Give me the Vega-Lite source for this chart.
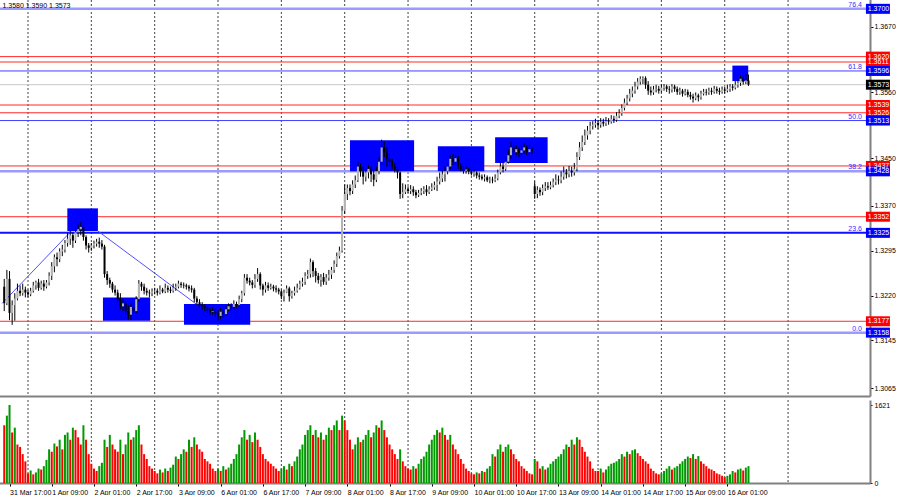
{
"$schema":"https://vega.github.io/schema/vega-lite/v6.json",
"background":"white","padding":{"left":-5,"top":-5,"right":0,"bottom":0},"spacing":2,
"config":{"view":{"stroke":null},"axis":{"labelFont":"Liberation Sans","labelFontSize":7,"labelColor":"#000000","tickColor":"#000000","grid":false,"title":null}},
"datasets":{
"bars":[
{"i":1,"o":1.3235,"h":1.3248,"l":1.3194,"c":1.3207,"v":1200},
{"i":2,"o":1.3207,"h":1.3263,"l":1.3204,"c":1.3248,"v":1400},
{"i":3,"o":1.3248,"h":1.3261,"l":1.3179,"c":1.3191,"v":1621},
{"i":4,"o":1.3191,"h":1.3212,"l":1.3171,"c":1.3204,"v":1050},
{"i":5,"o":1.3204,"h":1.3224,"l":1.3178,"c":1.3215,"v":1150},
{"i":6,"o":1.3215,"h":1.3240,"l":1.3212,"c":1.3228,"v":800},
{"i":7,"o":1.3228,"h":1.3237,"l":1.3219,"c":1.3224,"v":750},
{"i":8,"o":1.3224,"h":1.3240,"l":1.3220,"c":1.3230,"v":600},
{"i":9,"o":1.3230,"h":1.3235,"l":1.3217,"c":1.3225,"v":450},
{"i":10,"o":1.3225,"h":1.3230,"l":1.3217,"c":1.3222,"v":200},
{"i":11,"o":1.3222,"h":1.3233,"l":1.3219,"c":1.3228,"v":260},
{"i":12,"o":1.3228,"h":1.3243,"l":1.3225,"c":1.3237,"v":180},
{"i":13,"o":1.3237,"h":1.3245,"l":1.3230,"c":1.3242,"v":220},
{"i":14,"o":1.3242,"h":1.3248,"l":1.3228,"c":1.3233,"v":300},
{"i":15,"o":1.3233,"h":1.3245,"l":1.3230,"c":1.3240,"v":280},
{"i":16,"o":1.3240,"h":1.3246,"l":1.3228,"c":1.3235,"v":350},
{"i":17,"o":1.3235,"h":1.3246,"l":1.3232,"c":1.3242,"v":480},
{"i":18,"o":1.3242,"h":1.3259,"l":1.3237,"c":1.3253,"v":700},
{"i":19,"o":1.3253,"h":1.3276,"l":1.3246,"c":1.3269,"v":650},
{"i":20,"o":1.3269,"h":1.3289,"l":1.3259,"c":1.3284,"v":820},
{"i":21,"o":1.3284,"h":1.3292,"l":1.3269,"c":1.3281,"v":760},
{"i":22,"o":1.3281,"h":1.3299,"l":1.3276,"c":1.3294,"v":900},
{"i":23,"o":1.3294,"h":1.3305,"l":1.3286,"c":1.3297,"v":700},
{"i":24,"o":1.3297,"h":1.3313,"l":1.3292,"c":1.3308,"v":1000},
{"i":25,"o":1.3308,"h":1.3325,"l":1.3302,"c":1.3315,"v":1050},
{"i":26,"o":1.3315,"h":1.3328,"l":1.3305,"c":1.3321,"v":900},
{"i":27,"o":1.3321,"h":1.3325,"l":1.3300,"c":1.3312,"v":1150},
{"i":28,"o":1.3312,"h":1.3335,"l":1.3308,"c":1.3326,"v":1100},
{"i":29,"o":1.3326,"h":1.3339,"l":1.3318,"c":1.3331,"v":950},
{"i":30,"o":1.3331,"h":1.3343,"l":1.3321,"c":1.3335,"v":800},
{"i":31,"o":1.3335,"h":1.3338,"l":1.3312,"c":1.3318,"v":1200},
{"i":32,"o":1.3318,"h":1.3321,"l":1.3297,"c":1.3304,"v":900},
{"i":33,"o":1.3304,"h":1.3308,"l":1.3292,"c":1.3300,"v":600},
{"i":34,"o":1.3300,"h":1.3308,"l":1.3295,"c":1.3304,"v":400},
{"i":35,"o":1.3304,"h":1.3312,"l":1.3299,"c":1.3307,"v":300},
{"i":36,"o":1.3307,"h":1.3315,"l":1.3302,"c":1.3310,"v":250},
{"i":37,"o":1.3310,"h":1.3317,"l":1.3300,"c":1.3307,"v":350},
{"i":38,"o":1.3307,"h":1.3313,"l":1.3297,"c":1.3302,"v":420},
{"i":39,"o":1.3302,"h":1.3305,"l":1.3250,"c":1.3256,"v":900},
{"i":40,"o":1.3256,"h":1.3261,"l":1.3238,"c":1.3246,"v":750},
{"i":41,"o":1.3246,"h":1.3250,"l":1.3233,"c":1.3240,"v":1000},
{"i":42,"o":1.3240,"h":1.3243,"l":1.3225,"c":1.3230,"v":800},
{"i":43,"o":1.3230,"h":1.3237,"l":1.3220,"c":1.3225,"v":700},
{"i":44,"o":1.3225,"h":1.3230,"l":1.3209,"c":1.3214,"v":650},
{"i":45,"o":1.3214,"h":1.3224,"l":1.3197,"c":1.3202,"v":900},
{"i":46,"o":1.3202,"h":1.3215,"l":1.3194,"c":1.3207,"v":600},
{"i":47,"o":1.3207,"h":1.3210,"l":1.3188,"c":1.3194,"v":800},
{"i":48,"o":1.3194,"h":1.3204,"l":1.3179,"c":1.3188,"v":1050},
{"i":49,"o":1.3188,"h":1.3207,"l":1.3179,"c":1.3201,"v":900},
{"i":50,"o":1.3201,"h":1.3207,"l":1.3189,"c":1.3194,"v":950},
{"i":51,"o":1.3194,"h":1.3219,"l":1.3191,"c":1.3214,"v":1100},
{"i":52,"o":1.3214,"h":1.3246,"l":1.3210,"c":1.3240,"v":1200},
{"i":53,"o":1.3240,"h":1.3243,"l":1.3228,"c":1.3235,"v":800},
{"i":54,"o":1.3235,"h":1.3240,"l":1.3222,"c":1.3228,"v":600},
{"i":55,"o":1.3228,"h":1.3233,"l":1.3220,"c":1.3225,"v":500},
{"i":56,"o":1.3225,"h":1.3230,"l":1.3217,"c":1.3224,"v":350},
{"i":57,"o":1.3224,"h":1.3232,"l":1.3219,"c":1.3227,"v":300},
{"i":58,"o":1.3227,"h":1.3233,"l":1.3222,"c":1.3228,"v":250},
{"i":59,"o":1.3228,"h":1.3232,"l":1.3220,"c":1.3225,"v":200},
{"i":60,"o":1.3225,"h":1.3237,"l":1.3222,"c":1.3230,"v":280},
{"i":61,"o":1.3230,"h":1.3233,"l":1.3224,"c":1.3227,"v":220},
{"i":62,"o":1.3227,"h":1.3240,"l":1.3224,"c":1.3233,"v":300},
{"i":63,"o":1.3233,"h":1.3237,"l":1.3225,"c":1.3230,"v":250},
{"i":64,"o":1.3230,"h":1.3235,"l":1.3224,"c":1.3228,"v":320},
{"i":65,"o":1.3228,"h":1.3240,"l":1.3225,"c":1.3233,"v":380},
{"i":66,"o":1.3233,"h":1.3240,"l":1.3228,"c":1.3235,"v":550},
{"i":67,"o":1.3235,"h":1.3245,"l":1.3232,"c":1.3240,"v":500},
{"i":68,"o":1.3240,"h":1.3243,"l":1.3233,"c":1.3238,"v":600},
{"i":69,"o":1.3238,"h":1.3242,"l":1.3232,"c":1.3237,"v":700},
{"i":70,"o":1.3237,"h":1.3240,"l":1.3230,"c":1.3235,"v":650},
{"i":71,"o":1.3235,"h":1.3238,"l":1.3227,"c":1.3232,"v":900},
{"i":72,"o":1.3232,"h":1.3237,"l":1.3225,"c":1.3230,"v":750},
{"i":73,"o":1.3230,"h":1.3233,"l":1.3209,"c":1.3215,"v":950},
{"i":74,"o":1.3215,"h":1.3219,"l":1.3204,"c":1.3209,"v":800},
{"i":75,"o":1.3209,"h":1.3214,"l":1.3199,"c":1.3204,"v":700},
{"i":76,"o":1.3204,"h":1.3209,"l":1.3196,"c":1.3202,"v":650},
{"i":77,"o":1.3202,"h":1.3206,"l":1.3194,"c":1.3199,"v":500},
{"i":78,"o":1.3199,"h":1.3202,"l":1.3191,"c":1.3196,"v":450},
{"i":79,"o":1.3196,"h":1.3199,"l":1.3188,"c":1.3193,"v":400},
{"i":80,"o":1.3193,"h":1.3201,"l":1.3188,"c":1.3194,"v":300},
{"i":81,"o":1.3194,"h":1.3199,"l":1.3184,"c":1.3191,"v":250},
{"i":82,"o":1.3191,"h":1.3196,"l":1.3178,"c":1.3186,"v":300},
{"i":83,"o":1.3186,"h":1.3199,"l":1.3181,"c":1.3193,"v":250},
{"i":84,"o":1.3193,"h":1.3197,"l":1.3184,"c":1.3189,"v":350},
{"i":85,"o":1.3189,"h":1.3204,"l":1.3186,"c":1.3197,"v":280},
{"i":86,"o":1.3197,"h":1.3207,"l":1.3194,"c":1.3202,"v":320},
{"i":87,"o":1.3202,"h":1.3207,"l":1.3196,"c":1.3201,"v":400},
{"i":88,"o":1.3201,"h":1.3212,"l":1.3197,"c":1.3206,"v":500},
{"i":89,"o":1.3206,"h":1.3210,"l":1.3199,"c":1.3204,"v":600},
{"i":90,"o":1.3204,"h":1.3220,"l":1.3201,"c":1.3214,"v":800},
{"i":91,"o":1.3214,"h":1.3228,"l":1.3209,"c":1.3224,"v":950},
{"i":92,"o":1.3224,"h":1.3256,"l":1.3220,"c":1.3250,"v":1100},
{"i":93,"o":1.3250,"h":1.3256,"l":1.3240,"c":1.3245,"v":900},
{"i":94,"o":1.3245,"h":1.3250,"l":1.3237,"c":1.3242,"v":1000},
{"i":95,"o":1.3242,"h":1.3246,"l":1.3232,"c":1.3238,"v":850},
{"i":96,"o":1.3238,"h":1.3256,"l":1.3233,"c":1.3248,"v":1050},
{"i":97,"o":1.3248,"h":1.3266,"l":1.3243,"c":1.3256,"v":900},
{"i":98,"o":1.3256,"h":1.3259,"l":1.3230,"c":1.3237,"v":750},
{"i":99,"o":1.3237,"h":1.3240,"l":1.3220,"c":1.3230,"v":600},
{"i":100,"o":1.3230,"h":1.3243,"l":1.3225,"c":1.3237,"v":500},
{"i":101,"o":1.3237,"h":1.3242,"l":1.3228,"c":1.3233,"v":450},
{"i":102,"o":1.3233,"h":1.3240,"l":1.3230,"c":1.3235,"v":400},
{"i":103,"o":1.3235,"h":1.3238,"l":1.3227,"c":1.3232,"v":350},
{"i":104,"o":1.3232,"h":1.3237,"l":1.3225,"c":1.3230,"v":300},
{"i":105,"o":1.3230,"h":1.3233,"l":1.3222,"c":1.3227,"v":250},
{"i":106,"o":1.3227,"h":1.3230,"l":1.3214,"c":1.3219,"v":300},
{"i":107,"o":1.3219,"h":1.3230,"l":1.3210,"c":1.3225,"v":350},
{"i":108,"o":1.3225,"h":1.3237,"l":1.3224,"c":1.3232,"v":280},
{"i":109,"o":1.3232,"h":1.3235,"l":1.3210,"c":1.3219,"v":400},
{"i":110,"o":1.3219,"h":1.3228,"l":1.3215,"c":1.3224,"v":350},
{"i":111,"o":1.3224,"h":1.3235,"l":1.3220,"c":1.3228,"v":450},
{"i":112,"o":1.3228,"h":1.3240,"l":1.3225,"c":1.3233,"v":550},
{"i":113,"o":1.3233,"h":1.3245,"l":1.3230,"c":1.3240,"v":700},
{"i":114,"o":1.3240,"h":1.3250,"l":1.3235,"c":1.3243,"v":800},
{"i":115,"o":1.3243,"h":1.3259,"l":1.3238,"c":1.3253,"v":1000},
{"i":116,"o":1.3253,"h":1.3263,"l":1.3248,"c":1.3256,"v":1100},
{"i":117,"o":1.3256,"h":1.3282,"l":1.3250,"c":1.3276,"v":1200},
{"i":118,"o":1.3276,"h":1.3279,"l":1.3251,"c":1.3261,"v":1000},
{"i":119,"o":1.3261,"h":1.3266,"l":1.3242,"c":1.3253,"v":1100},
{"i":120,"o":1.3253,"h":1.3258,"l":1.3240,"c":1.3246,"v":950},
{"i":121,"o":1.3246,"h":1.3256,"l":1.3235,"c":1.3251,"v":1050},
{"i":122,"o":1.3251,"h":1.3258,"l":1.3238,"c":1.3243,"v":900},
{"i":123,"o":1.3243,"h":1.3256,"l":1.3238,"c":1.3250,"v":1000},
{"i":124,"o":1.3250,"h":1.3263,"l":1.3245,"c":1.3255,"v":1150},
{"i":125,"o":1.3255,"h":1.3268,"l":1.3248,"c":1.3263,"v":1100},
{"i":126,"o":1.3263,"h":1.3279,"l":1.3258,"c":1.3273,"v":1200},
{"i":127,"o":1.3273,"h":1.3292,"l":1.3268,"c":1.3286,"v":1300},
{"i":128,"o":1.3286,"h":1.3302,"l":1.3282,"c":1.3295,"v":1100},
{"i":129,"o":1.3295,"h":1.3370,"l":1.3292,"c":1.3362,"v":1400},
{"i":130,"o":1.3362,"h":1.3406,"l":1.3357,"c":1.3390,"v":1300},
{"i":131,"o":1.3390,"h":1.3406,"l":1.3380,"c":1.3400,"v":1100},
{"i":132,"o":1.3400,"h":1.3406,"l":1.3388,"c":1.3395,"v":900},
{"i":133,"o":1.3395,"h":1.3413,"l":1.3390,"c":1.3406,"v":700},
{"i":134,"o":1.3406,"h":1.3421,"l":1.3400,"c":1.3413,"v":800},
{"i":135,"o":1.3413,"h":1.3444,"l":1.3410,"c":1.3436,"v":950},
{"i":136,"o":1.3436,"h":1.3441,"l":1.3419,"c":1.3428,"v":850},
{"i":137,"o":1.3428,"h":1.3436,"l":1.3406,"c":1.3419,"v":900},
{"i":138,"o":1.3419,"h":1.3432,"l":1.3411,"c":1.3426,"v":1000},
{"i":139,"o":1.3426,"h":1.3439,"l":1.3416,"c":1.3432,"v":1100},
{"i":140,"o":1.3432,"h":1.3436,"l":1.3410,"c":1.3423,"v":950},
{"i":141,"o":1.3423,"h":1.3431,"l":1.3403,"c":1.3414,"v":1050},
{"i":142,"o":1.3414,"h":1.3436,"l":1.3410,"c":1.3428,"v":1200},
{"i":143,"o":1.3428,"h":1.3452,"l":1.3423,"c":1.3444,"v":1150},
{"i":144,"o":1.3444,"h":1.3481,"l":1.3439,"c":1.3468,"v":1300},
{"i":145,"o":1.3468,"h":1.3478,"l":1.3452,"c":1.3460,"v":1100},
{"i":146,"o":1.3460,"h":1.3468,"l":1.3436,"c":1.3449,"v":950},
{"i":147,"o":1.3449,"h":1.3457,"l":1.3436,"c":1.3444,"v":800},
{"i":148,"o":1.3444,"h":1.3449,"l":1.3431,"c":1.3436,"v":700},
{"i":149,"o":1.3436,"h":1.3442,"l":1.3426,"c":1.3431,"v":600},
{"i":150,"o":1.3431,"h":1.3436,"l":1.3416,"c":1.3426,"v":500},
{"i":151,"o":1.3426,"h":1.3428,"l":1.3382,"c":1.3390,"v":700},
{"i":152,"o":1.3390,"h":1.3408,"l":1.3383,"c":1.3393,"v":450},
{"i":153,"o":1.3393,"h":1.3406,"l":1.3390,"c":1.3398,"v":350},
{"i":154,"o":1.3398,"h":1.3403,"l":1.3392,"c":1.3395,"v":300},
{"i":155,"o":1.3395,"h":1.3405,"l":1.3390,"c":1.3398,"v":280},
{"i":156,"o":1.3398,"h":1.3403,"l":1.3387,"c":1.3393,"v":350},
{"i":157,"o":1.3393,"h":1.3397,"l":1.3383,"c":1.3388,"v":300},
{"i":158,"o":1.3388,"h":1.3397,"l":1.3385,"c":1.3392,"v":400},
{"i":159,"o":1.3392,"h":1.3400,"l":1.3388,"c":1.3395,"v":500},
{"i":160,"o":1.3395,"h":1.3403,"l":1.3390,"c":1.3398,"v":550},
{"i":161,"o":1.3398,"h":1.3405,"l":1.3387,"c":1.3393,"v":650},
{"i":162,"o":1.3393,"h":1.3403,"l":1.3390,"c":1.3398,"v":800},
{"i":163,"o":1.3398,"h":1.3408,"l":1.3395,"c":1.3401,"v":900},
{"i":164,"o":1.3401,"h":1.3411,"l":1.3397,"c":1.3405,"v":1000},
{"i":165,"o":1.3405,"h":1.3419,"l":1.3395,"c":1.3411,"v":1100},
{"i":166,"o":1.3411,"h":1.3426,"l":1.3406,"c":1.3416,"v":1050},
{"i":167,"o":1.3416,"h":1.3429,"l":1.3410,"c":1.3423,"v":1150},
{"i":168,"o":1.3423,"h":1.3436,"l":1.3411,"c":1.3428,"v":1000},
{"i":169,"o":1.3428,"h":1.3442,"l":1.3423,"c":1.3436,"v":900},
{"i":170,"o":1.3436,"h":1.3455,"l":1.3432,"c":1.3449,"v":1000},
{"i":171,"o":1.3449,"h":1.3457,"l":1.3439,"c":1.3444,"v":800},
{"i":172,"o":1.3444,"h":1.3455,"l":1.3439,"c":1.3450,"v":700},
{"i":173,"o":1.3450,"h":1.3454,"l":1.3432,"c":1.3437,"v":600},
{"i":174,"o":1.3437,"h":1.3442,"l":1.3428,"c":1.3432,"v":500},
{"i":175,"o":1.3432,"h":1.3437,"l":1.3424,"c":1.3429,"v":400},
{"i":176,"o":1.3429,"h":1.3436,"l":1.3424,"c":1.3431,"v":300},
{"i":177,"o":1.3431,"h":1.3434,"l":1.3423,"c":1.3428,"v":250},
{"i":178,"o":1.3428,"h":1.3431,"l":1.3421,"c":1.3424,"v":200},
{"i":179,"o":1.3424,"h":1.3431,"l":1.3419,"c":1.3426,"v":180},
{"i":180,"o":1.3426,"h":1.3428,"l":1.3416,"c":1.3421,"v":220},
{"i":181,"o":1.3421,"h":1.3426,"l":1.3414,"c":1.3419,"v":200},
{"i":182,"o":1.3419,"h":1.3423,"l":1.3413,"c":1.3416,"v":250},
{"i":183,"o":1.3416,"h":1.3423,"l":1.3411,"c":1.3418,"v":230},
{"i":184,"o":1.3418,"h":1.3421,"l":1.3410,"c":1.3413,"v":300},
{"i":185,"o":1.3413,"h":1.3419,"l":1.3408,"c":1.3414,"v":350},
{"i":186,"o":1.3414,"h":1.3419,"l":1.3408,"c":1.3413,"v":600},
{"i":187,"o":1.3413,"h":1.3423,"l":1.3410,"c":1.3416,"v":550},
{"i":188,"o":1.3416,"h":1.3431,"l":1.3413,"c":1.3426,"v":700},
{"i":189,"o":1.3426,"h":1.3442,"l":1.3423,"c":1.3436,"v":800},
{"i":190,"o":1.3436,"h":1.3442,"l":1.3426,"c":1.3432,"v":650},
{"i":191,"o":1.3432,"h":1.3452,"l":1.3429,"c":1.3444,"v":750},
{"i":192,"o":1.3444,"h":1.3465,"l":1.3441,"c":1.3455,"v":800},
{"i":193,"o":1.3455,"h":1.3477,"l":1.3449,"c":1.3468,"v":700},
{"i":194,"o":1.3468,"h":1.3473,"l":1.3455,"c":1.3460,"v":600},
{"i":195,"o":1.3460,"h":1.3472,"l":1.3455,"c":1.3465,"v":500},
{"i":196,"o":1.3465,"h":1.3468,"l":1.3452,"c":1.3459,"v":450},
{"i":197,"o":1.3459,"h":1.3470,"l":1.3454,"c":1.3463,"v":350},
{"i":198,"o":1.3463,"h":1.3475,"l":1.3457,"c":1.3468,"v":300},
{"i":199,"o":1.3468,"h":1.3472,"l":1.3455,"c":1.3460,"v":250},
{"i":200,"o":1.3460,"h":1.3472,"l":1.3457,"c":1.3465,"v":200},
{"i":201,"o":1.3465,"h":1.3468,"l":1.3457,"c":1.3462,"v":180},
{"i":202,"o":1.3403,"h":1.3411,"l":1.3382,"c":1.3390,"v":500},
{"i":203,"o":1.3390,"h":1.3403,"l":1.3383,"c":1.3397,"v":450},
{"i":204,"o":1.3397,"h":1.3401,"l":1.3387,"c":1.3393,"v":300},
{"i":205,"o":1.3393,"h":1.3406,"l":1.3388,"c":1.3400,"v":350},
{"i":206,"o":1.3400,"h":1.3410,"l":1.3395,"c":1.3403,"v":280},
{"i":207,"o":1.3403,"h":1.3410,"l":1.3397,"c":1.3401,"v":320},
{"i":208,"o":1.3401,"h":1.3411,"l":1.3398,"c":1.3405,"v":400},
{"i":209,"o":1.3405,"h":1.3416,"l":1.3401,"c":1.3410,"v":450},
{"i":210,"o":1.3410,"h":1.3423,"l":1.3405,"c":1.3414,"v":500},
{"i":211,"o":1.3414,"h":1.3421,"l":1.3406,"c":1.3413,"v":550},
{"i":212,"o":1.3413,"h":1.3428,"l":1.3408,"c":1.3419,"v":600},
{"i":213,"o":1.3419,"h":1.3436,"l":1.3414,"c":1.3426,"v":700},
{"i":214,"o":1.3426,"h":1.3432,"l":1.3416,"c":1.3423,"v":800},
{"i":215,"o":1.3423,"h":1.3437,"l":1.3418,"c":1.3429,"v":750},
{"i":216,"o":1.3429,"h":1.3436,"l":1.3419,"c":1.3426,"v":900},
{"i":217,"o":1.3426,"h":1.3442,"l":1.3421,"c":1.3432,"v":800},
{"i":218,"o":1.3432,"h":1.3460,"l":1.3428,"c":1.3452,"v":950},
{"i":219,"o":1.3452,"h":1.3477,"l":1.3447,"c":1.3468,"v":900},
{"i":220,"o":1.3468,"h":1.3488,"l":1.3462,"c":1.3477,"v":750},
{"i":221,"o":1.3477,"h":1.3498,"l":1.3472,"c":1.3488,"v":650},
{"i":222,"o":1.3488,"h":1.3504,"l":1.3481,"c":1.3496,"v":550},
{"i":223,"o":1.3496,"h":1.3511,"l":1.3490,"c":1.3504,"v":450},
{"i":224,"o":1.3504,"h":1.3512,"l":1.3498,"c":1.3506,"v":300},
{"i":225,"o":1.3506,"h":1.3516,"l":1.3501,"c":1.3509,"v":250},
{"i":226,"o":1.3509,"h":1.3514,"l":1.3499,"c":1.3506,"v":250},
{"i":227,"o":1.3506,"h":1.3517,"l":1.3501,"c":1.3511,"v":300},
{"i":228,"o":1.3511,"h":1.3516,"l":1.3503,"c":1.3508,"v":220},
{"i":229,"o":1.3508,"h":1.3519,"l":1.3504,"c":1.3512,"v":280},
{"i":230,"o":1.3512,"h":1.3517,"l":1.3506,"c":1.3511,"v":350},
{"i":231,"o":1.3511,"h":1.3522,"l":1.3508,"c":1.3516,"v":400},
{"i":232,"o":1.3516,"h":1.3521,"l":1.3509,"c":1.3514,"v":420},
{"i":233,"o":1.3514,"h":1.3527,"l":1.3511,"c":1.3521,"v":450},
{"i":234,"o":1.3521,"h":1.3532,"l":1.3517,"c":1.3525,"v":500},
{"i":235,"o":1.3525,"h":1.3540,"l":1.3521,"c":1.3534,"v":600},
{"i":236,"o":1.3534,"h":1.3550,"l":1.3530,"c":1.3543,"v":550},
{"i":237,"o":1.3543,"h":1.3556,"l":1.3539,"c":1.3550,"v":650},
{"i":238,"o":1.3550,"h":1.3566,"l":1.3545,"c":1.3558,"v":600},
{"i":239,"o":1.3558,"h":1.3570,"l":1.3552,"c":1.3563,"v":680},
{"i":240,"o":1.3563,"h":1.3578,"l":1.3558,"c":1.3570,"v":700},
{"i":241,"o":1.3570,"h":1.3584,"l":1.3565,"c":1.3578,"v":620},
{"i":242,"o":1.3578,"h":1.3587,"l":1.3573,"c":1.3583,"v":560},
{"i":243,"o":1.3583,"h":1.3587,"l":1.3574,"c":1.3584,"v":500},
{"i":244,"o":1.3584,"h":1.3587,"l":1.3566,"c":1.3573,"v":450},
{"i":245,"o":1.3573,"h":1.3579,"l":1.3556,"c":1.3563,"v":400},
{"i":246,"o":1.3563,"h":1.3570,"l":1.3555,"c":1.3560,"v":300},
{"i":247,"o":1.3560,"h":1.3571,"l":1.3556,"c":1.3565,"v":250},
{"i":248,"o":1.3565,"h":1.3573,"l":1.3560,"c":1.3566,"v":200},
{"i":249,"o":1.3566,"h":1.3571,"l":1.3558,"c":1.3563,"v":180},
{"i":250,"o":1.3563,"h":1.3574,"l":1.3560,"c":1.3568,"v":200},
{"i":251,"o":1.3568,"h":1.3574,"l":1.3563,"c":1.3570,"v":250},
{"i":252,"o":1.3570,"h":1.3573,"l":1.3561,"c":1.3566,"v":300},
{"i":253,"o":1.3566,"h":1.3571,"l":1.3558,"c":1.3565,"v":350},
{"i":254,"o":1.3565,"h":1.3574,"l":1.3560,"c":1.3570,"v":280},
{"i":255,"o":1.3570,"h":1.3573,"l":1.3561,"c":1.3566,"v":320},
{"i":256,"o":1.3566,"h":1.3570,"l":1.3556,"c":1.3561,"v":350},
{"i":257,"o":1.3561,"h":1.3568,"l":1.3556,"c":1.3563,"v":400},
{"i":258,"o":1.3563,"h":1.3566,"l":1.3553,"c":1.3558,"v":450},
{"i":259,"o":1.3558,"h":1.3566,"l":1.3555,"c":1.3561,"v":500},
{"i":260,"o":1.3561,"h":1.3565,"l":1.3552,"c":1.3556,"v":550},
{"i":261,"o":1.3556,"h":1.3561,"l":1.3548,"c":1.3553,"v":520},
{"i":262,"o":1.3553,"h":1.3558,"l":1.3543,"c":1.3550,"v":600},
{"i":263,"o":1.3550,"h":1.3560,"l":1.3547,"c":1.3555,"v":500},
{"i":264,"o":1.3555,"h":1.3558,"l":1.3545,"c":1.3552,"v":560},
{"i":265,"o":1.3552,"h":1.3563,"l":1.3548,"c":1.3558,"v":450},
{"i":266,"o":1.3558,"h":1.3566,"l":1.3555,"c":1.3561,"v":400},
{"i":267,"o":1.3561,"h":1.3566,"l":1.3555,"c":1.3560,"v":350},
{"i":268,"o":1.3560,"h":1.3568,"l":1.3556,"c":1.3563,"v":300},
{"i":269,"o":1.3563,"h":1.3568,"l":1.3556,"c":1.3561,"v":280},
{"i":270,"o":1.3561,"h":1.3571,"l":1.3558,"c":1.3566,"v":250},
{"i":271,"o":1.3566,"h":1.3570,"l":1.3558,"c":1.3563,"v":200},
{"i":272,"o":1.3563,"h":1.3568,"l":1.3556,"c":1.3561,"v":180},
{"i":273,"o":1.3561,"h":1.3570,"l":1.3558,"c":1.3565,"v":150},
{"i":274,"o":1.3565,"h":1.3570,"l":1.3558,"c":1.3563,"v":120},
{"i":275,"o":1.3563,"h":1.3573,"l":1.3560,"c":1.3566,"v":150},
{"i":276,"o":1.3566,"h":1.3574,"l":1.3561,"c":1.3570,"v":180},
{"i":277,"o":1.3570,"h":1.3574,"l":1.3563,"c":1.3568,"v":250},
{"i":278,"o":1.3568,"h":1.3579,"l":1.3565,"c":1.3573,"v":220},
{"i":279,"o":1.3573,"h":1.3583,"l":1.3568,"c":1.3576,"v":280},
{"i":280,"o":1.3576,"h":1.3589,"l":1.3571,"c":1.3583,"v":300},
{"i":281,"o":1.3583,"h":1.3587,"l":1.3573,"c":1.3578,"v":260},
{"i":282,"o":1.3578,"h":1.3591,"l":1.3574,"c":1.3580,"v":320},
{"i":283,"o":1.3580,"h":1.3590,"l":1.3571,"c":1.3573,"v":350}
],
"days":[{"i":10},{"i":34},{"i":58},{"i":82},{"i":106},{"i":130},{"i":154},{"i":178},{"i":202},{"i":226},{"i":250},{"i":274},{"i":298}],
"levels":[
{"p":1.3700,"kind":"light"},{"p":1.3620,"kind":"red"},{"p":1.3611,"kind":"red"},{"p":1.3596,"kind":"blue"},
{"p":1.3573,"kind":"cur"},{"p":1.3539,"kind":"red"},{"p":1.3526,"kind":"red"},{"p":1.3513,"kind":"blue"},
{"p":1.3437,"kind":"red"},{"p":1.3428,"kind":"light"},{"p":1.3352,"kind":"red"},{"p":1.3325,"kind":"blue2"},
{"p":1.3177,"kind":"red"},{"p":1.3158,"kind":"light"}],
"fib":[{"p":1.3700,"t":"76.4"},{"p":1.3596,"t":"61.8"},{"p":1.3513,"t":"50.0"},{"p":1.3428,"t":"38.2"},{"p":1.3325,"t":"23.6"},{"p":1.3158,"t":"0.0"}],
"boxes":[
{"x1":24.9,"x2":36.5,"p1":1.3328,"p2":1.3366},
{"x1":38.4,"x2":56.3,"p1":1.3178,"p2":1.3217},
{"x1":69.1,"x2":94.2,"p1":1.3171,"p2":1.3206},
{"x1":132.0,"x2":156.3,"p1":1.3428,"p2":1.3480},
{"x1":165.3,"x2":182.9,"p1":1.3428,"p2":1.3470},
{"x1":187.0,"x2":206.9,"p1":1.3442,"p2":1.3485},
{"x1":276.9,"x2":282.9,"p1":1.3579,"p2":1.3605}],
"trend":[{"seg":"a","i":0.2,"p":1.3207},{"seg":"a","i":26.4,"p":1.3328},{"seg":"b","i":36.5,"p":1.3328},{"seg":"b","i":74.0,"p":1.3205}],
"info":[{"i":0.3,"p":1.3705,"t":"1.3580 1.3590 1.3573"}]
},
"vconcat":[
{"width":873,"height":400,
"layer":[
{"data":{"name":"days"},"mark":{"type":"rule","color":"#444444","strokeDash":[2,2],"strokeWidth":1},
 "encoding":{"x":{"field":"i","type":"quantitative","scale":{"domain":[0.15,327.15],"nice":false,"zero":false},"axis":{"labels":false,"ticks":false,"domainColor":"#808080","domainWidth":2,"title":null}}}},
{"data":{"name":"levels"},"mark":{"type":"rule"},
 "encoding":{"y":{"field":"p","type":"quantitative","scale":{"domain":[1.30603,1.37131],"nice":false,"zero":false},
   "axis":{"orient":"right","values":[1.3065,1.3105,1.3145,1.3185,1.322,1.326,1.3295,1.3335,1.337,1.341,1.345,1.3485,1.356,1.3635,1.367,1.371],"format":".4f","tickSize":3,"labelPadding":1,"domainColor":"#808080","domainWidth":2,"labelFlush":true,"title":null}},
  "color":{"condition":[{"test":"datum.kind==='red'","value":"#ff2a2a"},{"test":"datum.kind==='cur'","value":"#c8c8c8"},{"test":"datum.kind==='light'","value":"#9a9aff"},{"test":"datum.kind==='blue2'","value":"#1010ff"}],"value":"#4040ff"},
  "strokeWidth":{"condition":[{"test":"datum.kind==='light'","value":2.5},{"test":"datum.kind==='blue2'","value":2}],"value":1}}},
{"data":{"name":"boxes"},"mark":{"type":"rect","color":"#0000ff"},
 "encoding":{"x":{"field":"x1","type":"quantitative"},"x2":{"field":"x2"},"y":{"field":"p1","type":"quantitative"},"y2":{"field":"p2"}}},
{"data":{"name":"trend"},"mark":{"type":"line","color":"#5050ff","strokeWidth":1},
 "encoding":{"x":{"field":"i","type":"quantitative"},"y":{"field":"p","type":"quantitative"},"detail":{"field":"seg"}}},
{"data":{"name":"bars"},"mark":{"type":"rule","color":"#000000","strokeWidth":1},
 "encoding":{"x":{"field":"i","type":"quantitative"},"y":{"field":"l","type":"quantitative"},"y2":{"field":"h"}}},
{"data":{"name":"bars"},"mark":{"type":"bar","width":2},
 "encoding":{"x":{"field":"i","type":"quantitative"},"y":{"field":"o","type":"quantitative"},"y2":{"field":"c"},
  "color":{"condition":{"test":"datum.c>=datum.o","value":"#b4b4b4"},"value":"#000000"}}},
{"data":{"name":"fib"},"mark":{"type":"text","align":"right","baseline":"bottom","dy":-1,"font":"Liberation Sans","fontSize":7,"color":"#3030ff"},
 "encoding":{"x":{"datum":326.0},"y":{"field":"p","type":"quantitative"},"text":{"field":"t"}}},
{"data":{"name":"levels"},"mark":{"type":"bar","orient":"horizontal","size":10},
 "encoding":{"x":{"datum":327.5},"x2":{"datum":336.6},"y":{"field":"p","type":"quantitative"},
  "color":{"condition":[{"test":"datum.kind==='red'","value":"#ff0000"},{"test":"datum.kind==='cur'","value":"#000000"}],"value":"#0000ff"}}},
{"data":{"name":"levels"},"mark":{"type":"text","align":"left","baseline":"middle","font":"Liberation Sans","fontSize":7,"color":"#ffffff"},
 "encoding":{"x":{"datum":328.2},"y":{"field":"p","type":"quantitative"},"text":{"field":"p","format":".4f"}}},
{"data":{"name":"info"},"mark":{"type":"text","align":"left","baseline":"middle","font":"Liberation Sans","fontSize":7,"color":"#000000"},
 "encoding":{"x":{"field":"i","type":"quantitative"},"y":{"field":"p","type":"quantitative"},"text":{"field":"t"}}}
]},
{"width":873,"height":83,
"layer":[
{"data":{"name":"days"},"mark":{"type":"rule","color":"#444444","strokeDash":[2,2],"strokeWidth":1},
 "encoding":{"x":{"field":"i","type":"quantitative","scale":{"domain":[0.15,327.15],"nice":false,"zero":false},
   "axis":{"values":[3,19,35,51,67,83,99,115,131,147,163,179,195,211,227,243,259,275],
     "labelExpr":"['31 Mar 17:00','1 Apr 09:00','2 Apr 01:00','2 Apr 17:00','3 Apr 09:00','6 Apr 01:00','6 Apr 17:00','7 Apr 09:00','8 Apr 01:00','8 Apr 17:00','9 Apr 09:00','10 Apr 01:00','10 Apr 17:00','13 Apr 09:00','14 Apr 01:00','14 Apr 17:00','15 Apr 09:00','16 Apr 01:00'][round((datum.value-3)/16)]",
     "labelAlign":"left","labelPadding":2,"tickSize":3,"domainColor":"#808080","domainWidth":2,"labelOverlap":false,"labelBound":false,"title":null}}}},
{"data":{"name":"bars"},
 "transform":[{"window":[{"op":"lag","field":"v","as":"pv"}],"sort":[{"field":"i"}]}],
 "mark":{"type":"bar","width":2},
 "encoding":{"x":{"field":"i","type":"quantitative"},
  "y":{"field":"v","type":"quantitative","scale":{"domain":[0,1725],"nice":false},"axis":{"orient":"right","values":[0,1621],"format":"d","tickSize":2,"labelPadding":2,"domainColor":"#808080","domainWidth":2,"title":null}},
  "color":{"condition":{"test":"datum.pv!=null && datum.v>datum.pv","value":"#009900"},"value":"#ff0000"}}}
]}
]
}
